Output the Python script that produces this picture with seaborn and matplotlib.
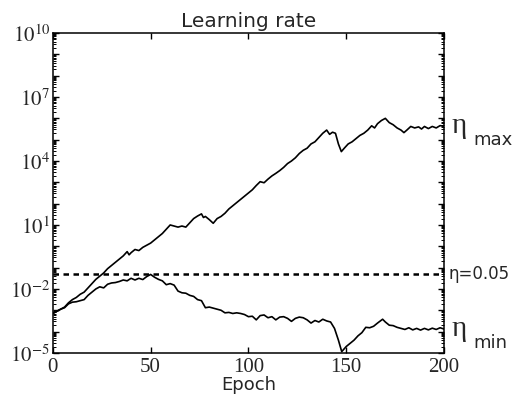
import numpy as np
import pandas as pd
import matplotlib
matplotlib.use('Agg')
import matplotlib.pyplot as plt
import matplotlib.ticker as mticker
import seaborn as sns

# epochs and log10 of the learning rate bounds
epoch_max = [0, 2, 4, 6, 8, 10, 12, 14, 16, 18, 20, 22, 24, 26, 28, 30, 32, 34, 36, 38,
             39, 40, 42, 44, 46, 48, 50, 52, 54, 56, 58, 60, 62, 64, 66, 68, 70, 72, 74, 76,
             77, 78, 80, 82, 84, 86, 88, 90, 92, 94, 96, 98, 100, 102, 104, 106, 108, 110,
             112, 114, 116, 118, 120, 122, 124, 126, 128, 130, 132, 134, 136, 138, 140,
             141.5, 143, 144.5, 146, 147.5, 149, 151, 153, 155, 157, 159, 161, 163, 164.5,
             166, 168, 170, 172, 174, 176, 178, 179.5, 181, 183, 185, 187, 188.5, 190, 192,
             194, 196, 198, 200]
log_eta_max = [-3.15, -3.05, -2.95, -2.85, -2.65, -2.5, -2.4, -2.25, -2.15, -1.95, -1.75,
               -1.55, -1.4, -1.25, -1.05, -0.9, -0.75, -0.6, -0.45, -0.25, -0.4, -0.3, -0.15,
               -0.2, -0.05, 0.05, 0.15, 0.3, 0.45, 0.6, 0.8, 1.0, 0.95, 0.9, 0.95, 0.9, 1.1,
               1.3, 1.42, 1.52, 1.35, 1.4, 1.25, 1.08, 1.3, 1.4, 1.55, 1.75, 1.9, 2.05, 2.2,
               2.35, 2.5, 2.65, 2.85, 3.03, 2.98, 3.15, 3.3, 3.42, 3.55, 3.7, 3.88, 4.0, 4.15,
               4.35, 4.5, 4.6, 4.8, 4.9, 5.1, 5.3, 5.45, 5.25, 5.35, 5.3, 4.8, 4.44, 4.6, 4.8,
               4.9, 5.05, 5.2, 5.3, 5.45, 5.65, 5.55, 5.75, 5.9, 6.0, 5.8, 5.7, 5.55, 5.45,
               5.33, 5.45, 5.62, 5.55, 5.6, 5.5, 5.62, 5.52, 5.62, 5.55, 5.66, 5.62]

epoch_min = [0, 2, 4, 6, 8, 10, 12, 14, 16, 18, 20, 22, 24, 26, 28, 30, 32, 34, 36, 38, 40,
             42, 44, 46, 48, 50, 52, 54, 56, 58, 60, 62, 64, 66, 68, 70, 72, 74, 76, 78, 80,
             82, 84, 86, 88, 90, 92, 94, 96, 98, 100, 102, 104, 106, 108, 110, 112, 114, 116,
             118, 120, 122, 124, 126, 128, 130, 132, 134, 136, 138, 140, 142, 144, 146, 147.7,
             150, 152, 154, 156, 158, 160, 162, 164, 166, 168.6, 170, 172, 174, 176, 178, 180,
             182, 184, 186, 188, 190, 192, 194, 196, 198, 200]
log_eta_min = [-3.15, -3.05, -2.95, -2.88, -2.7, -2.62, -2.6, -2.55, -2.5, -2.3, -2.15, -2.0,
               -1.9, -1.95, -1.78, -1.72, -1.7, -1.65, -1.58, -1.62, -1.5, -1.58, -1.5, -1.56,
               -1.42, -1.32, -1.45, -1.55, -1.62, -1.8, -1.75, -1.82, -2.1, -2.18, -2.2, -2.3,
               -2.35, -2.5, -2.55, -2.88, -2.85, -2.9, -2.95, -3.0, -3.12, -3.1, -3.15, -3.12,
               -3.15, -3.2, -3.3, -3.28, -3.45, -3.25, -3.22, -3.35, -3.3, -3.45, -3.32, -3.3,
               -3.38, -3.52, -3.38, -3.32, -3.35, -3.45, -3.6, -3.48, -3.55, -3.42, -3.5,
               -3.55, -3.85, -4.4, -4.94, -4.7, -4.55, -4.4, -4.2, -4.05, -3.8, -3.82, -3.75,
               -3.6, -3.42, -3.55, -3.7, -3.72, -3.8, -3.85, -3.9, -3.82, -3.92, -3.85, -3.93,
               -3.85, -3.92, -3.84, -3.9, -3.82, -3.88]

eta_fixed = 0.05
x_ticks = [0, 50, 100, 150, 200]
y_decades = list(range(-5, 11))

df_max = pd.DataFrame({'epoch': epoch_max, 'eta': np.power(10.0, log_eta_max)})
df_min = pd.DataFrame({'epoch': epoch_min, 'eta': np.power(10.0, log_eta_min)})

sns.set_style('ticks')
plt.rcParams['font.family'] = ['DejaVu Sans']
plt.rcParams['mathtext.fontset'] = 'stix'

fig = plt.figure(figsize=(5.23, 4.08), dpi=100)
ax = fig.add_axes([0.101, 0.135, 0.748, 0.784])

sns.lineplot(data=df_max, x='epoch', y='eta', color='black', lw=1.2, ax=ax)
sns.lineplot(data=df_min, x='epoch', y='eta', color='black', lw=1.2, ax=ax)
ax.axhline(eta_fixed, color='black', lw=1.8, ls=(0, (2.2, 1.8)))

ax.set_yscale('log')
ax.set_xlim(0, 200)
ax.set_ylim(1e-5, 1e10)

ax.set_xticks(x_ticks)
ax.set_xticklabels([str(t) for t in x_ticks], family='Liberation Serif', fontsize=15)


def fmt(v, pos):
    k = int(round(np.log10(v)))
    if (k + 5) % 3 == 0:
        return r'$10^{%d}$' % k
    return ''


ax.yaxis.set_major_locator(mticker.FixedLocator([10.0 ** k for k in y_decades]))
ax.yaxis.set_major_formatter(mticker.FuncFormatter(fmt))
minor_vals = [m * 10.0 ** k for k in y_decades[:-1] for m in range(2, 10)]
ax.yaxis.set_minor_locator(mticker.FixedLocator(minor_vals))
ax.yaxis.set_minor_formatter(mticker.NullFormatter())
for lab in ax.get_yticklabels():
    lab.set_fontsize(15)

ax.tick_params(axis='both', which='major', direction='in', length=4.5, width=1,
               top=True, right=True, color='black')
ax.tick_params(axis='y', which='major', pad=2)
ax.tick_params(axis='x', which='major', pad=4)
ax.tick_params(axis='y', which='minor', direction='in', length=2.5, width=0.7,
               left=True, right=True, color='black')
for s in ax.spines.values():
    s.set_linewidth(1.1)
    s.set_color('black')

ax.set_xlabel('Epoch', fontsize=13, labelpad=-1)
ax.set_ylabel('')
ax.set_title('Learning rate', fontsize=14.5, pad=4)

tr = ax.get_yaxis_transform()
eta_font = dict(family='Liberation Serif', fontsize=21, va='center', ha='left', transform=tr)
ax.text(1.02, df_max['eta'].iloc[-1], 'η', **eta_font)
ax.text(1.075, df_max['eta'].iloc[-1] / 10 ** 0.65, 'max', transform=tr, fontsize=13,
        va='center', ha='left')
ax.text(1.02, df_min['eta'].iloc[-1], 'η', **eta_font)
ax.text(1.075, df_min['eta'].iloc[-1] / 10 ** 0.65, 'min', transform=tr, fontsize=13,
        va='center', ha='left')
ax.text(1.012, eta_fixed, 'η=0.05', transform=tr, fontsize=12, va='center', ha='left')

fig.savefig('out.png', dpi=100)
